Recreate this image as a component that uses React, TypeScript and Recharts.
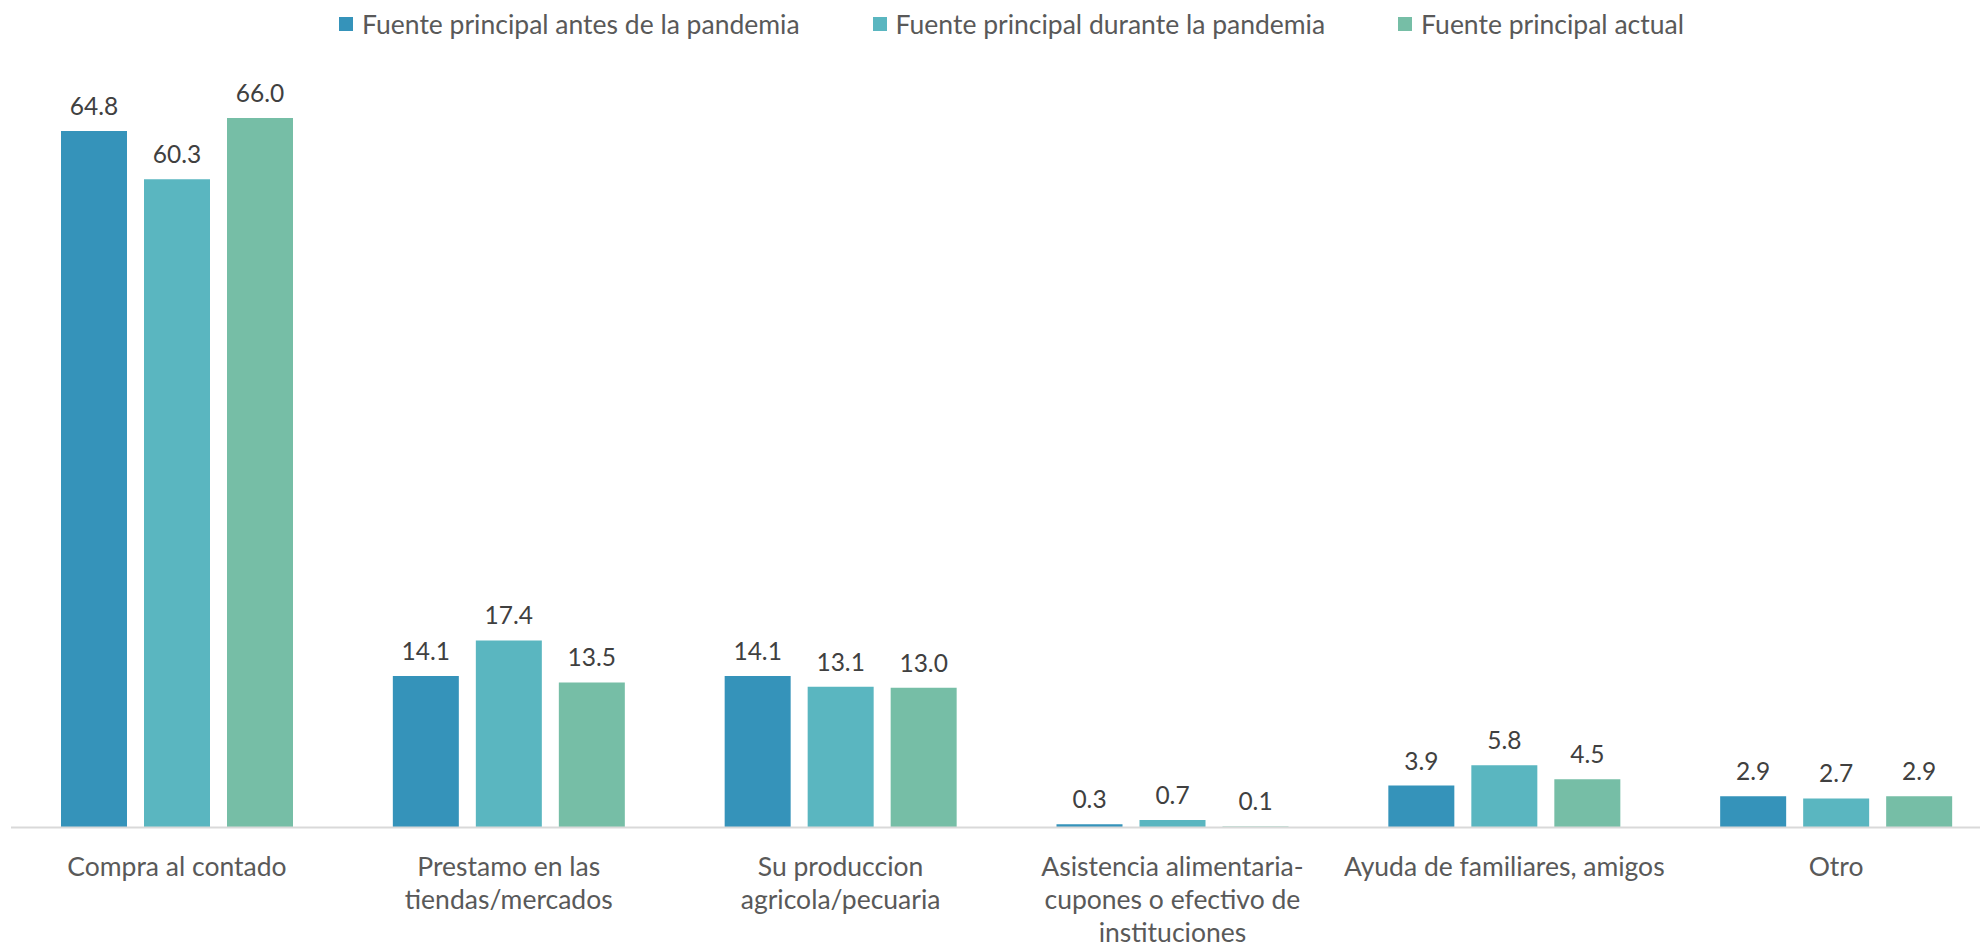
import { BarChart, Bar, XAxis, YAxis, Legend, LabelList } from 'recharts';

const categories = [
  'Compra al contado',
  'Prestamo en las\ntiendas/mercados',
  'Su produccion\nagricola/pecuaria',
  'Asistencia alimentaria-\ncupones o efectivo de\ninstituciones',
  'Ayuda de familiares, amigos',
  'Otro',
];
const antes = [64.8, 14.1, 14.1, 0.3, 3.9, 2.9];
const durante = [60.3, 17.4, 13.1, 0.7, 5.8, 2.7];
const actual = [66.0, 13.5, 13.0, 0.1, 4.5, 2.9];

const series = [
  { key: 'antes', name: 'Fuente principal antes de la pandemia', color: '#3593BA' },
  { key: 'durante', name: 'Fuente principal durante la pandemia', color: '#5AB6C0' },
  { key: 'actual', name: 'Fuente principal actual', color: '#76BEA6' },
];

const data = categories.map((c, i) => ({
  name: c,
  antes: antes[i],
  durante: durante[i],
  actual: actual[i],
}));

const FONT = 'Lato, "Noto Sans", sans-serif';

function CategoryTick({ x, y, payload }: any) {
  const lines = String(payload.value).split('\n');
  return (
    <text x={x} y={y} textAnchor="middle" fill="#595959" fontSize={26.5} fontFamily={FONT}>
      {lines.map((l, i) => (
        <tspan key={i} x={x} dy={i === 0 ? 40 : 33}>
          {l}
        </tspan>
      ))}
    </text>
  );
}

function LegendContent() {
  return (
    <div
      style={{
        display: 'flex',
        justifyContent: 'center',
        alignItems: 'center',
        height: 31,
        gap: 73,
        fontFamily: FONT,
        fontSize: 26.5,
        color: '#595959',
        paddingLeft: 10,
      }}
    >
      {series.map((s) => (
        <div key={s.key} style={{ display: 'flex', alignItems: 'center' }}>
          <span style={{ width: 14, height: 14, background: s.color, marginRight: 9, display: 'inline-block' }} />
          <span>{s.name}</span>
        </div>
      ))}
    </div>
  );
}

const fmt = (v: any) => Number(v).toFixed(1);

export default function App() {
  return (
    <div style={{ width: 1980, height: 946, overflow: 'hidden' }}>
      <style>{'body{margin:0;overflow:hidden}'}</style>
      <BarChart
        width={2002}
        height={946}
        data={data}
        margin={{ top: 44, right: 0, bottom: 0, left: 11 }}
        barSize={66}
        barGap={17}
      >
        <Legend
          verticalAlign="top"
          align="center"
          height={31}
          wrapperStyle={{ top: 8 }}
          content={<LegendContent />}
        />
        <XAxis
          dataKey="name"
          height={118.5}
          interval={0}
          tickLine={false}
          axisLine={{ stroke: '#D9D9D9', strokeWidth: 2 }}
          tick={<CategoryTick />}
        />
        <YAxis hide domain={[0, 70]} />
        {series.map((s) => (
          <Bar key={s.key} dataKey={s.key} name={s.name} fill={s.color} isAnimationActive={false}>
            <LabelList
              dataKey={s.key}
              position="top"
              offset={16}
              formatter={fmt}
              fill="#404040"
              fontSize={24.5}
              fontFamily={FONT}
            />
          </Bar>
        ))}
      </BarChart>
    </div>
  );
}
